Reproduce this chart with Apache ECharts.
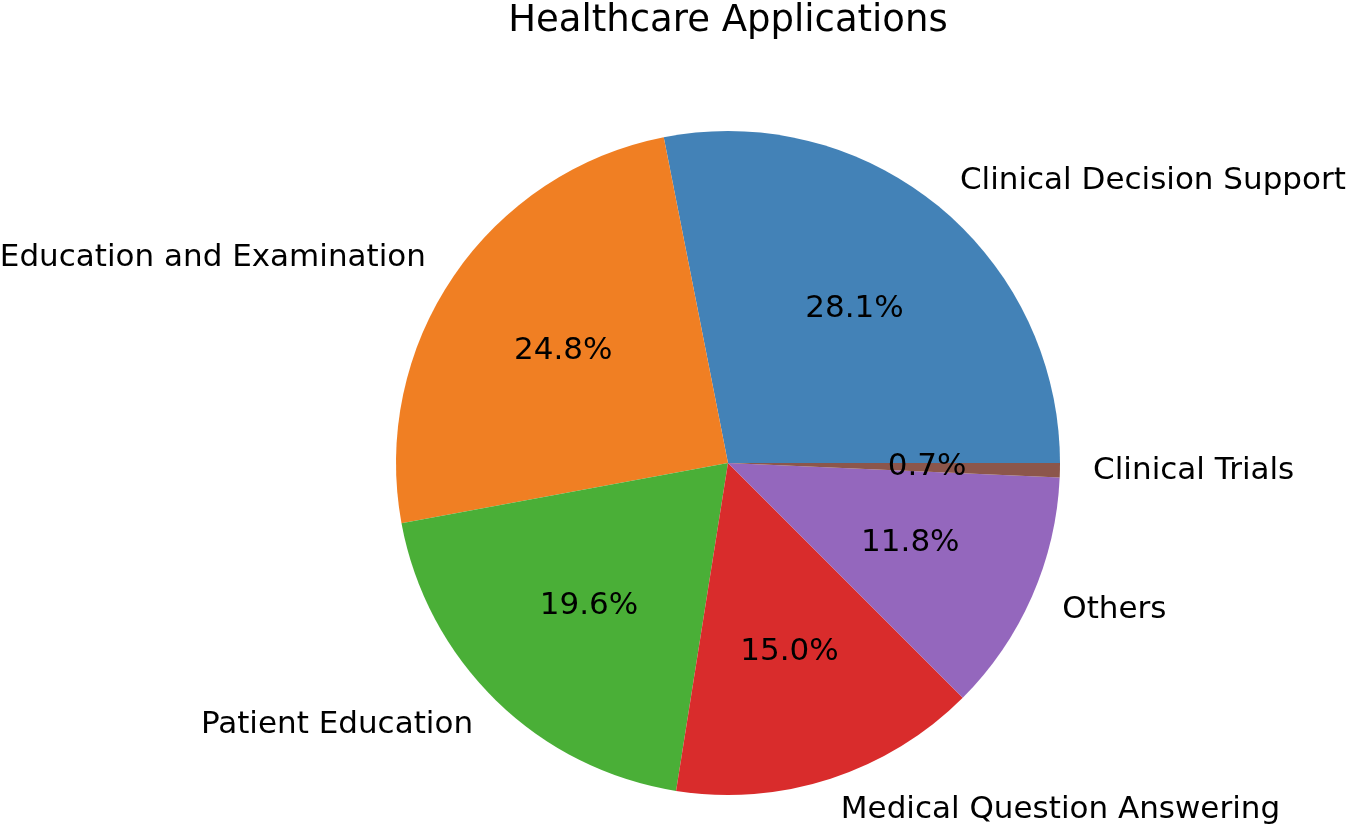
<!DOCTYPE html>
<html>
<head>
<meta charset="utf-8">
<script src="https://cdn.jsdelivr.net/npm/echarts@6/dist/echarts.min.js"></script>
<style>html,body{margin:0;padding:0;background:#fff;}#c{width:1350px;height:827px;}</style>
</head>
<body>
<div id="c"></div>
<script>
const categories = ["Clinical Decision Support", "Education and Examination", "Patient Education", "Medical Question Answering", "Others", "Clinical Trials"];
const values = [28.1, 24.8, 19.6, 15.0, 11.8, 0.7];
const colors = ["#4382b7", "#f07f23", "#4aaf37", "#d92c2c", "#9467bd", "#8c564b"];
const titleText = "Healthcare Applications";

const font = "DejaVu Sans";
const cx = 728, cy = 463, R = 332;
const data = categories.map((n, i) => ({ name: n, value: values[i], itemStyle: { color: colors[i] } }));

const chart = echarts.init(document.getElementById('c'), null, { renderer: 'canvas' });
chart.setOption({
  animation: false,
  backgroundColor: '#ffffff',
  title: {
    text: titleText,
    left: cx, textAlign: 'center', top: 3, padding: 0,
    textStyle: { fontFamily: font, fontSize: 37, fontWeight: 'normal', color: '#000' }
  },
  series: [
    {
      type: 'pie', center: [cx, cy], radius: R, startAngle: 0, clockwise: false,
      avoidLabelOverlap: false, silent: true,
      itemStyle: { borderWidth: 0 },
      label: { show: true, position: 'outside', fontFamily: font, fontSize: 31, color: '#000', formatter: '{b}' },
      labelLine: { show: false, length: R * 0.1, length2: -5 },
      data: data
    },
    {
      type: 'pie', center: [cx, cy], radius: [0, R * 1.2 - 6], startAngle: 0, clockwise: false,
      avoidLabelOverlap: false, silent: true,
      itemStyle: { color: 'rgba(0,0,0,0)', borderWidth: 0 },
      label: { show: true, position: 'inside', fontFamily: font, fontSize: 31, color: '#000',
        formatter: p => p.value.toFixed(1) + '%' },
      labelLine: { show: false },
      data: values.map((v, i) => ({ name: categories[i], value: v, itemStyle: { color: 'rgba(0,0,0,0)' } }))
    }
  ]
});
</script>
</body>
</html>
